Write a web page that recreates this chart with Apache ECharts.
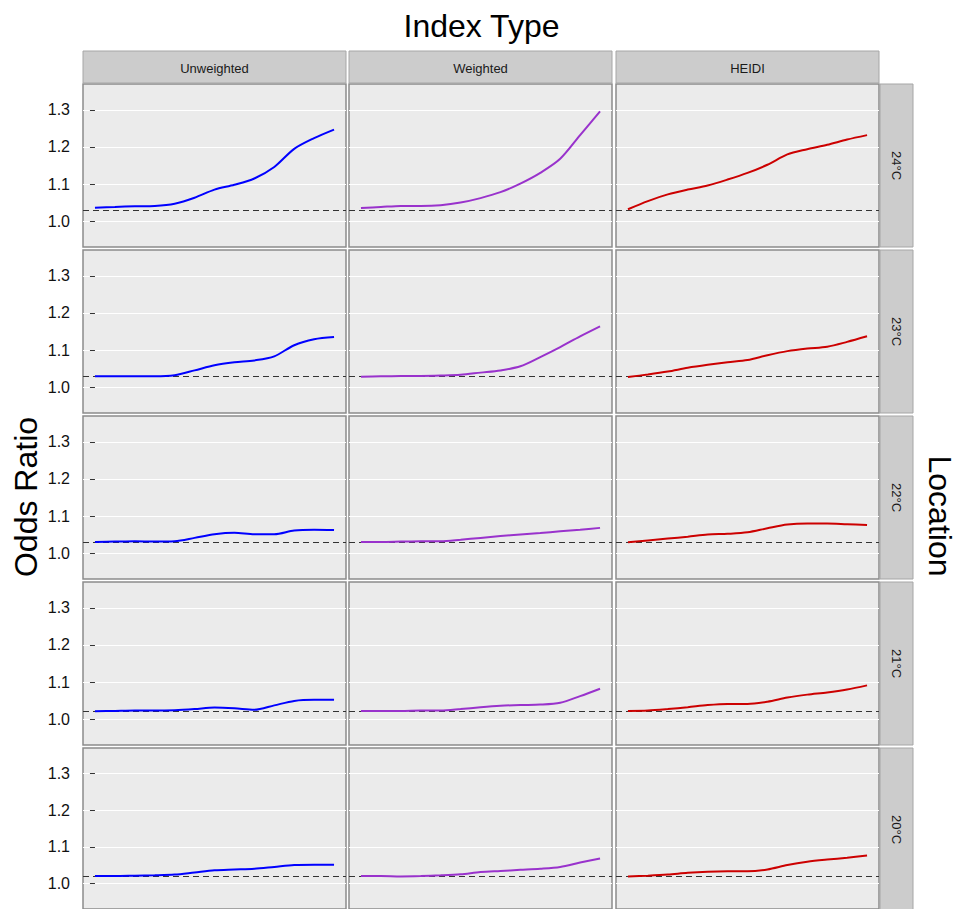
<!DOCTYPE html>
<html>
<head>
<meta charset="utf-8">
<script src="https://cdn.jsdelivr.net/npm/echarts@6/dist/echarts.min.js"></script>
<style>
html,body{margin:0;padding:0;background:#fff;}
#chart{width:957px;height:909px;}
</style>
</head>
<body>
<div id="chart"></div>
<script>
// ---------- data ----------
const indexTypes = ['Unweighted', 'Weighted', 'HEIDI'];
const locations = ['24°C', '23°C', '22°C', '21°C', '20°C'];
const xSteps = [0, 1, 2, 3, 4, 5, 6, 7, 8, 9, 10, 11, 12];
const yTicks = [1.0, 1.1, 1.2, 1.3];
const baselines = [1.035, 1.028, 1.030, 1.022, 1.020];

const unweighted24 = [1.036,1.038,1.040,1.041,1.047,1.063,1.085,1.098,1.115,1.146,1.195,1.224,1.247];
const unweighted23 = [1.029,1.029,1.029,1.029,1.032,1.045,1.059,1.067,1.072,1.083,1.113,1.129,1.135];
const unweighted22 = [1.030,1.031,1.032,1.031,1.032,1.041,1.051,1.055,1.051,1.051,1.061,1.063,1.062];
const unweighted21 = [1.021,1.022,1.023,1.023,1.024,1.027,1.031,1.029,1.025,1.037,1.049,1.052,1.052];
const unweighted20 = [1.020,1.020,1.021,1.022,1.024,1.030,1.036,1.038,1.040,1.045,1.050,1.051,1.051];

const weighted24 = [1.035,1.038,1.041,1.041,1.043,1.050,1.062,1.078,1.101,1.130,1.168,1.232,1.296];
const weighted23 = [1.028,1.029,1.030,1.030,1.031,1.033,1.039,1.045,1.056,1.081,1.108,1.137,1.164];
const weighted22 = [1.030,1.030,1.031,1.032,1.032,1.036,1.041,1.046,1.050,1.054,1.059,1.063,1.068];
const weighted21 = [1.022,1.022,1.022,1.023,1.023,1.027,1.032,1.036,1.038,1.039,1.044,1.062,1.082];
const weighted20 = [1.020,1.020,1.019,1.020,1.022,1.025,1.031,1.034,1.037,1.040,1.045,1.057,1.068];

const heidi24 = [1.032,1.054,1.072,1.085,1.096,1.112,1.130,1.152,1.180,1.194,1.206,1.220,1.232];
const heidi23 = [1.027,1.034,1.042,1.052,1.060,1.067,1.073,1.086,1.097,1.104,1.109,1.122,1.137];
const heidi22 = [1.029,1.034,1.039,1.044,1.050,1.052,1.056,1.067,1.077,1.080,1.080,1.078,1.076];
const heidi21 = [1.022,1.023,1.027,1.032,1.038,1.041,1.041,1.047,1.058,1.066,1.072,1.080,1.091];
const heidi20 = [1.019,1.021,1.024,1.029,1.032,1.033,1.033,1.038,1.050,1.059,1.065,1.070,1.076];

const seriesValues = [
  [unweighted24, weighted24, heidi24],
  [unweighted23, weighted23, heidi23],
  [unweighted22, weighted22, heidi22],
  [unweighted21, weighted21, heidi21],
  [unweighted20, weighted20, heidi20]
];

// ---------- layout & style ----------
const colors = ['#0000FF', '#9932CC', '#CC0000'];
const FONT = '"Liberation Sans", Arial, Helvetica, sans-serif';
const colLeft = [83, 349, 616];
const rowTop = [84, 250, 416, 582, 748];
const PW = 263, PH = 163;
const yMin = 0.93, yMax = 1.37;
const xPad = (xSteps[xSteps.length - 1] - xSteps[0]) * 0.05;

const grids = [], xAxes = [], yAxes = [], series = [], graphics = [];
let idx = 0;
for (let r = 0; r < locations.length; r++) {
  for (let c = 0; c < indexTypes.length; c++) {
    grids.push({
      left: colLeft[c], top: rowTop[r], width: PW, height: PH,
      show: true, backgroundColor: '#EBEBEB', borderColor: '#8C8C8C', borderWidth: 1.5,
      containLabel: false
    });
    xAxes.push({
      type: 'value', gridIndex: idx,
      min: xSteps[0] - xPad, max: xSteps[xSteps.length - 1] + xPad,
      show: false
    });
    yAxes.push({
      type: 'value', gridIndex: idx, min: yMin, max: yMax,
      axisLine: { show: false },
      axisTick: { show: c === 0, customValues: yTicks, length: 5, lineStyle: { color: '#333', width: 1 } },
      axisLabel: {
        show: c === 0, customValues: yTicks, margin: 13,
        formatter: v => v.toFixed(1),
        color: '#111', fontSize: 16, fontFamily: FONT
      },
      splitLine: { show: true, lineStyle: { color: '#FFFFFF', width: 1.2 } }
    });
    const vals = seriesValues[r][c];
    series.push({
      type: 'line', xAxisIndex: idx, yAxisIndex: idx,
      data: xSteps.map((x, k) => [x, vals[k]]),
      showSymbol: false, smooth: 0.3, z: 3,
      lineStyle: { color: colors[c], width: 2 },
      itemStyle: { color: colors[c] },
      markLine: {
        silent: true, symbol: ['none', 'none'], z: 2,
        label: { show: false },
        lineStyle: { type: [6, 4], color: '#333', width: 1.1 },
        data: [{ yAxis: baselines[r] }]
      }
    });
    idx++;
  }
}

// strips on top
for (let c = 0; c < indexTypes.length; c++) {
  graphics.push({
    type: 'rect', shape: { x: colLeft[c], y: 51, width: PW, height: 32 },
    style: { fill: '#CCCCCC', stroke: '#A6A6A6', lineWidth: 1 }, z: 10
  });
  graphics.push({
    type: 'text', x: colLeft[c] + PW / 2, y: 68, z: 11,
    style: { text: indexTypes[c], textAlign: 'center', textVerticalAlign: 'middle',
      font: '13px ' + FONT, fill: '#1A1A1A' }
  });
}
// strips on right
for (let r = 0; r < locations.length; r++) {
  graphics.push({
    type: 'rect', shape: { x: 880, y: rowTop[r], width: 33, height: PH },
    style: { fill: '#CCCCCC', stroke: '#A6A6A6', lineWidth: 1 }, z: 10
  });
  graphics.push({
    type: 'text', x: 896.5, y: rowTop[r] + PH / 2, rotation: -Math.PI / 2, z: 11,
    style: { text: locations[r], textAlign: 'center', textVerticalAlign: 'middle',
      font: '13px ' + FONT, fill: '#1A1A1A' }
  });
}
// titles
graphics.push({
  type: 'text', x: 481.5, y: 26, z: 11,
  style: { text: 'Index Type', textAlign: 'center', textVerticalAlign: 'middle',
    font: '32px ' + FONT, fill: '#000' }
});
graphics.push({
  type: 'text', x: 26, y: 497, rotation: Math.PI / 2, z: 11,
  style: { text: 'Odds Ratio', textAlign: 'center', textVerticalAlign: 'middle',
    font: '32px ' + FONT, fill: '#000' }
});
graphics.push({
  type: 'text', x: 940, y: 516, rotation: -Math.PI / 2, z: 11,
  style: { text: 'Location', textAlign: 'center', textVerticalAlign: 'middle',
    font: '32px ' + FONT, fill: '#000' }
});

const chart = echarts.init(document.getElementById('chart'), null, { renderer: 'svg' });
chart.setOption({
  animation: false,
  backgroundColor: '#FFFFFF',
  grid: grids,
  xAxis: xAxes,
  yAxis: yAxes,
  series: series,
  graphic: { elements: graphics }
});
</script>
</body>
</html>
